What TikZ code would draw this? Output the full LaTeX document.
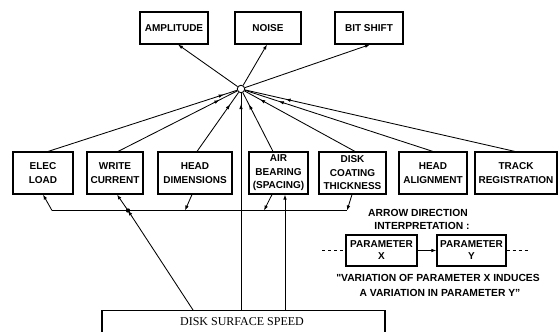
\documentclass[tikz,border=0pt]{standalone}
\usepackage{fontspec}
\setmainfont{Liberation Sans}
\newfontfamily\dssfont{Liberation Serif}
\newfontfamily\rawfont{Liberation Sans}[Ligatures=ResetAll]
\usetikzlibrary{arrows.meta,decorations.markings,calc}
\tikzset{
  tip/.tip={Latex[length=5pt,width=3.6pt]},
  con/.style={line width=0.85pt},
  box/.style={draw, line width=1.1pt, font=\fontsize{10}{13.5}\selectfont\bfseries, align=center, inner sep=0pt},
  hubnode/.style={draw, circle, line width=0.9pt, fill=white, minimum size=7.5pt, inner sep=0pt},
  legtext/.style={font=\fontsize{10.3}{12}\selectfont\bfseries, inner sep=0pt},
  arr/.style={postaction={decorate}, decoration={markings, mark=at position #1 with {\arrow{tip}}}}
}
\begin{document}
\begin{tikzpicture}[x=1pt,y=-1pt]
\useasboundingbox (0,0) rectangle (560,332);
% top row
\node[box, minimum width=68pt, minimum height=32pt] (amp) at (174,28) {AMPLITUDE};
\node[box, minimum width=66pt, minimum height=32pt] (noise) at (268,28) {NOISE};
\node[box, minimum width=68pt, minimum height=32pt] (bit) at (369,28) {BIT SHIFT};
% bottom row
\node[box, minimum width=60pt, minimum height=42pt] (elec) at (43,173) {ELEC\\LOAD};
\node[box, minimum width=56pt, minimum height=42pt] (write) at (115,173) {WRITE\\CURRENT};
\node[box, minimum width=74pt, minimum height=42pt] (hdim) at (195,173) {HEAD\\DIMENSIONS};
\node[box, minimum width=59pt, minimum height=42pt] (air) at (278.5,173) {AIR\\BEARING\\(SPACING)};
\node[box, minimum width=67pt, minimum height=42pt] (disk) at (352.5,173) {DISK\\COATING\\THICKNESS};
\node[box, minimum width=68pt, minimum height=42pt] (halign) at (433,173) {HEAD\\ALIGNMENT};
\node[box, minimum width=82pt, minimum height=42pt] (track) at (516,173) {TRACK\\REGISTRATION};
% disk surface speed
\node[draw, line width=1.1pt, minimum width=283pt, minimum height=30pt, anchor=north, inner sep=0pt] (dss) at (243.5,310) {};
\node[font=\dssfont\fontsize{12}{12}\selectfont, inner sep=0pt] (dsst) at (242,321.5) {DISK SURFACE SPEED};
% hub
\node[hubnode] (hub) at (241,89) {};
% hub to outputs
\draw[con,-tip] (hub) -- ([xshift=4pt]amp.south);
\draw[con,-tip] (hub) -- ([xshift=-1pt]noise.south);
\draw[con,-tip] (hub) -- ([xshift=1pt]bit.south);
% inputs to hub
\draw[con,arr=0.93] ([xshift=5pt]elec.north) -- (hub);
\draw[con,arr=0.85] ([xshift=3pt]write.north) -- (hub);
\draw[con,arr=0.80] ([xshift=2pt]hdim.north) -- (hub);
\draw[con,arr=0.95] (dss.north -| hub) -- (hub);
\draw[con,arr=0.80] ([xshift=-5.5pt]air.north) -- (hub);
\draw[con,arr=0.86] ([xshift=2.5pt]disk.north) -- (hub);
\draw[con,arr=0.82] (halign.north) -- (hub);
\draw[con,arr=0.85] ([xshift=-1pt]track.north) -- (hub);
% bus
\coordinate (busL) at (52,210.5);
\coordinate (busR) at (347,210.5);
\coordinate (J) at (128,210.5);
\coordinate (bHD) at (185,210.5);
\coordinate (bAir) at (264,210.5);
\draw[con] (busL) -- (busR);
\draw[con,-tip] (busL) -- (elec.south);
\draw[con,-tip] (J) -- ([xshift=2pt]write.south);
\draw[con,-tip] ([xshift=-3pt]hdim.south) -- (bHD);
\draw[con,-tip] ([xshift=-6.5pt]air.south) -- (bAir);
\draw[con,-tip] ([xshift=-0.5pt]disk.south) -- (busR);
\draw[con,-tip] ([xshift=-50.5pt]dss.north) -- (J);
\fill (J) circle (2.2pt);
\draw[con,-tip] ([xshift=41.5pt]dss.north) -- ([xshift=6.5pt]air.south);
% legend
\node[legtext] (leg1) at (418,213) {ARROW DIRECTION};
\node[legtext] (leg2) at (422,226) {INTERPRETATION :};
\node[box, minimum width=71pt, minimum height=31pt, font=\fontsize{10}{12}\selectfont\bfseries] (px) at (381.5,250.5) {PARAMETER\\X};
\node[box, minimum width=69pt, minimum height=31pt, font=\fontsize{10}{12}\selectfont\bfseries] (py) at (471.5,250.5) {PARAMETER\\Y};
\draw[con,-tip] (px) -- (py);
\coordinate (dl) at (322,250.5);
\coordinate (dr) at (530,250.5);
\draw[con,dashed] (dl) -- (px);
\draw[con,dashed] (py) -- (dr);
\node[legtext] (q1) at (438,278) {{\rawfont\bfseries"}VARIATION OF PARAMETER X INDUCES};
\node[legtext] (q2) at (440,293) {A VARIATION IN PARAMETER Y”};
\end{tikzpicture}
\end{document}
